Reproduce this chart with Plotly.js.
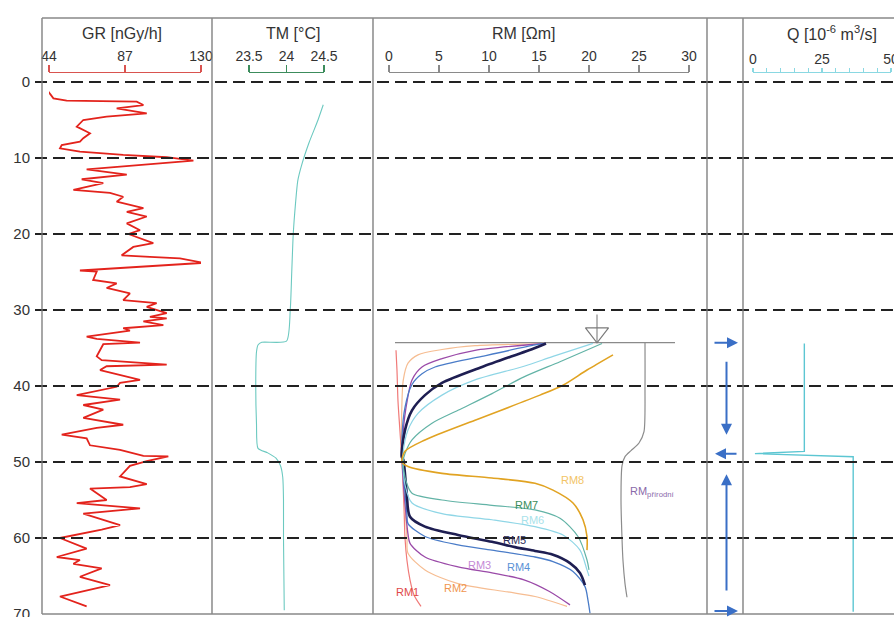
<!DOCTYPE html>
<html><head><meta charset="utf-8">
<script src="https://cdn.plot.ly/plotly-3.0.1.min.js"></script>
<style>html,body{margin:0;padding:0;background:#fff}#chart{width:894px;height:617px}</style>
</head><body><div id="chart"></div>
<script>
// ---------------- DATA ----------------
const grDepth = [1.27,2.15,2.45,2.59,3.03,3.46,4.12,4.56,5.0,5.88,6.75,7.4,7.85,8.29,8.73,9.17,9.6,9.9,10.35,11.05,11.5,12.2,12.8,13.3,14.2,14.6,15.1,15.75,16.6,17.1,17.7,18.6,19.5,20,21.2,21.7,22.8,23,23.2,23.8,24.3,24.8,24.95,26.05,26.5,27.1,27.8,28.7,29.1,29.6,30.4,30.9,31.1,31.5,32,32.4,32.7,33.5,33.8,34.3,34.5,36.1,36.6,37.2,37.4,37.9,39.2,39.6,40.1,41.2,41.8,42.5,43.1,44.2,45.1,45.5,46.4,46.9,47.8,48.4,49.2,49.25,49.9,50.5,51.9,52.9,53.3,53.5,55,55.4,56.1,56.8,58.3,58.9,60,61.4,62.5,62.9,63.4,64,65.1,66.2,67.7,69];
const grValue = [43.6,46.5,54,93.6,97.4,82.3,99.3,76.6,63.4,59.7,67.2,63.4,61.5,51.2,50.2,61.5,86,110.6,125.7,89.8,65.3,88,62.5,74.7,57.8,78.5,86,82.3,97.4,88,99.3,88,95.5,88.9,103,91.7,85.1,101.1,118.1,131.3,95.5,61.5,71,69,82.3,76.6,89.8,86,104.9,99.3,110.6,101.1,110.6,97.4,108.7,86,89.8,65.3,71,95.5,74.7,71,73.8,110.6,76.6,72.9,95.5,84.2,82.3,59.7,84.2,63.4,74.7,63.4,86,71,51.2,65.3,67.2,84.2,97.4,111.5,99.3,89.8,84.2,99.3,89.8,67.2,76.6,59.7,95.5,63.4,84.2,73.8,50.2,65.3,48.4,61.5,57.8,73.8,61.5,78.5,50.2,65.3];

const tmDepth = [3.0,5,8,11,13,16,20,25,30,34.1,34.25,34.6,35.5,40,45,48.2,48.8,49.5,50.5,52,55,60,69.5];
const tmValue = [24.49,24.42,24.3,24.2,24.15,24.12,24.09,24.07,24.05,24.0,23.67,23.62,23.6,23.59,23.6,23.62,23.75,23.86,23.92,23.95,23.96,23.96,23.97];

const qDepth = [34.4,48.6,48.9,49.3,69.7];
const qValue = [18.6,18.6,0.7,36.3,36.3];

const rm1Depth = [35.3,38,42,46,50,56,60,63,65.5,67.5,69];
const rm1Value = [0.7,0.8,0.9,1.1,1.3,1.5,1.6,1.8,2.1,2.5,3.2];
const rm2Depth = [34.4,34.45,34.7,35.2,35.9,37.0,39.2,43.5,48,52,56,60,62.0,64.2,66.0,67.1,67.7,69.0];
const rm2Value = [15.6,14.6,8.6,5.3,2.9,1.9,1.43,1.27,1.25,1.4,1.6,1.8,1.9,3.6,6.9,11.9,14.6,17.8];
const rm3Depth = [34.4,34.5,35.3,36.4,37.5,39.2,42.3,45.8,49,53,57,59.5,60.7,62.5,63.8,64.6,65.5,67,68.8];
const rm3Value = [15.6,14.6,8.6,5.3,3.3,2.3,1.77,1.43,1.3,1.45,1.7,1.9,2.1,3.6,6.9,10.3,13.5,16,18.1];
const rm4Depth = [34.4,34.6,36.1,37.5,38.4,39.8,42.8,46.7,50,54,57,58.1,59.8,60.9,61.6,62.5,63.1,64.4,66.4,68.2,69.9];
const rm4Value = [15.6,14.6,9.3,4.6,3.3,2.3,1.6,1.3,1.35,1.6,1.8,1.9,3.6,6.9,10.3,14.6,16.4,18.4,19.6,19.9,20.1];
const rm5Depth = [34.4,35.0,37.5,39.6,41.2,43.2,45.8,49.3,49.7,54.1,57.2,58.5,59.6,60.5,61.2,61.7,62.2,63.3,64.6,66.2];
const rm5Value = [15.7,14.6,9.3,5.3,3.6,2.3,1.6,1.27,1.43,1.77,2.1,3.6,6.9,10.3,12.6,14.6,16.4,18.1,19.1,19.6];
const rm6Depth = [34.4,36.1,37.4,39.2,41.2,43.6,45.8,48.9,50,53,55.4,56.8,57.6,58.5,59.6,61.6,64.2,65.0];
const rm6Value = [20.4,16.4,13.5,8.6,5.3,2.9,1.9,1.4,1.4,1.6,2.3,5.3,10.3,14.6,17.4,19.1,19.8,20.0];
const rm7Depth = [34.4,36.8,38.8,41.0,43.2,44.9,47.1,48.9,50,52.5,54.1,55.0,55.7,56.3,57.4,59.8,62.9,64.2];
const rm7Value = [21.3,17.1,13.5,10.3,6.9,4.3,2.3,1.6,1.4,1.7,2.3,5.3,10.3,14.6,17.1,18.9,19.8,20.0];
const rm8Depth = [35.9,37.9,39.9,41.2,44.5,47.1,48.6,50.0,50.6,51.5,52.1,52.8,53.7,55.4,57.6,59.8,61.6];
const rm8Value = [22.4,19.8,17.4,15.1,8.6,3.6,1.6,1.3,1.9,5.3,10.3,14.6,16.4,18.4,19.4,19.8,19.8];
const rmNatDepth = [34.3,40,46,47.5,48.5,49.3,50.5,55,60,63,66,67.8];
const rmNatValue = [25.6,25.6,25.5,25.0,24.2,23.6,23.3,23.2,23.3,23.4,23.6,23.8];

const waterDepth = 34.3;
const waterLineRM = [0.6, 28.6];
const waterMarkRM = 20.8;
const waterMarkTop = 30.6;

const gridDepths = [0,10,20,30,40,50,60];
const flowArrows = [
  {dir:'right', depth:34.3},
  {dir:'down', from:36.6, to:46.4},
  {dir:'left', depth:48.9},
  {dir:'up', from:67.1, to:51.6},
  {dir:'right', depth:69.6}
];
const rmNames = ['RM1','RM2','RM3','RM4','RM5','RM6','RM7','RM8'];

// ---------------- LAYOUT HELPERS ----------------
const W=894,H=617;
const fx=p=>p/W, fy=p=>(H-p)/H;
const FONT='Liberation Sans, Arial, sans-serif';

const rmColors = ['#f07a78','#f6bd92','#9a4aa8','#4a7cc8','#1e1e52','#8fd6e6','#62b3a6','#e1a322'];
const rmWidths = [1.2,1.2,1.3,1.3,2.6,1.2,1.2,1.6];
const rmDepths = [rm1Depth,rm2Depth,rm3Depth,rm4Depth,rm5Depth,rm6Depth,rm7Depth,rm8Depth];
const rmValues = [rm1Value,rm2Value,rm3Value,rm4Value,rm5Value,rm6Value,rm7Value,rm8Value];

const traces = [];
traces.push({x:[],y:[],xaxis:'x',yaxis:'y',type:'scatter',showlegend:false,hoverinfo:'skip'});
traces.push({x:grValue,y:grDepth,xaxis:'x2',yaxis:'y',type:'scatter',mode:'lines',line:{color:'#e3231c',width:1.8},showlegend:false});
traces.push({x:tmValue,y:tmDepth,xaxis:'x3',yaxis:'y',type:'scatter',mode:'lines',line:{color:'#6cc9c0',width:1.1,shape:'spline',smoothing:0.6},showlegend:false});
traces.push({x:waterLineRM,y:[waterDepth,waterDepth],xaxis:'x4',yaxis:'y',type:'scatter',mode:'lines',line:{color:'#8a8a8a',width:1.3},showlegend:false});
traces.push({x:[waterMarkRM,waterMarkRM],y:[waterMarkTop,waterDepth],xaxis:'x4',yaxis:'y',type:'scatter',mode:'lines',line:{color:'#8a8a8a',width:1.2},showlegend:false});
traces.push({x:[waterMarkRM],y:[waterDepth-1.3],xaxis:'x4',yaxis:'y',type:'scatter',mode:'markers',marker:{symbol:'triangle-down-open',size:20,color:'#7a7a7a',line:{width:1.2,color:'#7a7a7a'}},showlegend:false});
traces.push({x:rmNatValue,y:rmNatDepth,xaxis:'x4',yaxis:'y',type:'scatter',mode:'lines',line:{color:'#8c8c8c',width:1.2,shape:'spline',smoothing:0.7},showlegend:false});
for(let i=0;i<8;i++){
  traces.push({x:rmValues[i],y:rmDepths[i],xaxis:'x4',yaxis:'y',type:'scatter',mode:'lines',name:rmNames[i],
    line:{color:rmColors[i],width:rmWidths[i],shape:'spline',smoothing:0.8},showlegend:false});
}
traces.push({x:qValue,y:qDepth,xaxis:'x5',yaxis:'y',type:'scatter',mode:'lines',line:{color:'#5cc6d2',width:1.4},showlegend:false});

function scaleAxis(px0,px1,range,tick0,dtick,color,extra){
  return Object.assign({domain:[fx(px0),fx(px1)],range:range,anchor:'free',position:fy(72),side:'top',
    showline:true,linecolor:color,linewidth:1.3,ticks:'outside',ticklen:7,tickwidth:1.3,tickcolor:color,
    tickmode:'linear',tick0:tick0,dtick:dtick,tickfont:{size:14,color:'#333',family:FONT},
    ticklabelstandoff:-2,ticklabeloverflow:'allow',showgrid:false,zeroline:false,fixedrange:true},extra||{});
}

const shapes = [];
gridDepths.forEach(d=>shapes.push({type:'line',xref:'paper',yref:'y',x0:fx(35),x1:1,y0:d,y1:d,
  line:{color:'#222',width:2,dash:'12px,6px'}}));
[42,212,373,707,743].forEach(p=>shapes.push({type:'line',xref:'paper',yref:'paper',x0:fx(p),x1:fx(p),y0:fy(614),y1:fy(18),
  line:{color:'#777',width:1.3}}));
[18,614].forEach(p=>shapes.push({type:'line',xref:'paper',yref:'paper',x0:fx(42),x1:1,y0:fy(p),y1:fy(p),line:{color:'#888',width:1.3}}));

const annotations = [];
const titles = [['GR [nGy/h]',122],['TM [°C]',293],['RM [Ωm]',524],['Q [10<sup>-6</sup> m<sup>3</sup>/s]',832]];
titles.forEach(t=>annotations.push({text:t[0],xref:'paper',yref:'paper',x:fx(t[1]),y:fy(33),showarrow:false,
  xanchor:'center',yanchor:'middle',font:{size:16,color:'#333',family:FONT}}));

const rmLabelPos = [[0.5,67.1,'#e04848'],[5.3,66.6,'#f0954e'],[7.7,63.6,'#c58ad6'],[11.6,63.8,'#5a92d6'],[11.2,60.3,'#2a2a5a'],[13.0,57.6,'#a8e2ea'],[12.4,55.6,'#3b8c5a'],[17.0,52.4,'#f2c466']];
rmLabelPos.forEach((p,i)=>annotations.push({text:rmNames[i],xref:'x4',yref:'y',x:p[0],y:p[1],showarrow:false,
  xanchor:'left',yanchor:'middle',font:{size:11,color:p[2],family:FONT}}));
annotations.push({text:'RM<sub>přírodní</sub>',xref:'x4',yref:'y',x:23.9,y:54.0,showarrow:false,xanchor:'left',yanchor:'middle',
  font:{size:11,color:'#8a6aaa',family:FONT}});

const arrowColor='#3a6fc6';
flowArrows.forEach(a=>{
  const base={xref:'paper',yref:'y',text:'',showarrow:true,arrowhead:2,arrowsize:1.1,arrowwidth:2,arrowcolor:arrowColor,axref:'pixel'};
  if(a.dir==='right') annotations.push(Object.assign(base,{x:fx(738),y:a.depth,ax:-25,ay:0,ayref:'pixel'}));
  else if(a.dir==='left') annotations.push(Object.assign(base,{x:fx(715),y:a.depth,ax:23,ay:0,ayref:'pixel'}));
  else annotations.push(Object.assign(base,{x:fx(726.5),y:a.to,ax:0,ay:a.from,ayref:'y'}));
});

const layout = {
  width:W,height:H,margin:{l:0,r:0,t:0,b:0},paper_bgcolor:'#fff',plot_bgcolor:'rgba(0,0,0,0)',
  font:{family:FONT,color:'#333'},showlegend:false,
  xaxis:{domain:[fx(42),1],range:[0,1],visible:false,fixedrange:true},
  xaxis2:scaleAxis(49,201,[44,130],44,43,'#d9534f'),
  xaxis3:scaleAxis(249,324,[23.5,24.5],23.5,0.5,'#3c8c5c'),
  xaxis4:scaleAxis(389,689,[0,30],0,5,'#8a8a8a'),
  xaxis5:scaleAxis(753,891.28,[0,50.1],0,25,'#8ad8e2',{ticklen:4,minor:{tickmode:'linear',tick0:0,dtick:5,ticks:'outside',ticklen:4,tickcolor:'#8ad8e2',tickwidth:1.2}}),
  yaxis:{domain:[fy(616.28),fy(18)],range:[70.3,-8.42],anchor:'x',tickmode:'linear',tick0:0,dtick:10,ticks:'',
    showgrid:false,zeroline:false,showline:false,ticklabelstandoff:11,ticklabeloverflow:'allow',
    tickfont:{size:15,color:'#333',family:FONT},fixedrange:true},
  shapes:shapes,annotations:annotations
};
Plotly.newPlot('chart',traces,layout,{displayModeBar:false,staticPlot:true});
</script></body></html>
